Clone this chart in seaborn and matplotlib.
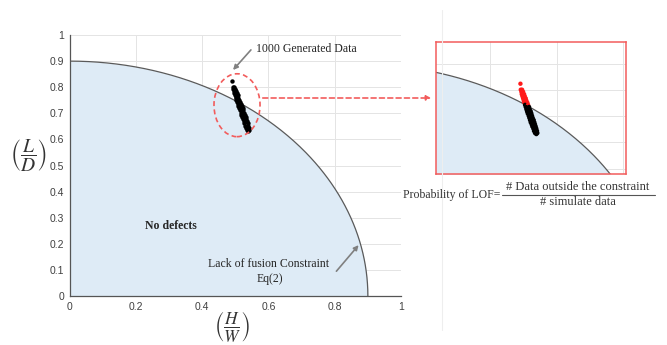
import matplotlib
matplotlib.use('Agg')
import matplotlib.pyplot as plt
import seaborn as sns
import numpy as np
import pandas as pd
from matplotlib.patches import Ellipse, FancyArrowPatch
from matplotlib.lines import Line2D

# lack of fusion constraint (Eq 2): (H/W)^2 + (L/D)^2 = radius^2
radius = 0.9

x_ticks = [0, 0.2, 0.4, 0.6, 0.8, 1]
x_tick_labels = ['0', '0.2', '0.4', '0.6', '0.8', '1']
y_ticks = [0, 0.1, 0.2, 0.3, 0.4, 0.5, 0.6, 0.7, 0.8, 0.9, 1]
y_tick_labels = ['0', '0.1', '0.2', '0.3', '0.4', '0.5', '0.6', '0.7', '0.8', '0.9', '1']

# generated data, read off the streak in the picture
hw = [0.491, 0.492, 0.496, 0.494, 0.499, 0.498, 0.495, 0.502, 0.497, 0.504,
      0.499, 0.507, 0.503, 0.501, 0.509, 0.503, 0.512, 0.5075, 0.505, 0.514,
      0.507, 0.517, 0.512, 0.509, 0.519, 0.511, 0.522, 0.5165, 0.513, 0.524,
      0.516, 0.526, 0.521, 0.518, 0.528, 0.520, 0.531, 0.525, 0.522, 0.533,
      0.525, 0.535, 0.530, 0.527, 0.537, 0.530, 0.539, 0.532, 0.541, 0.535,
      0.542, 0.539]
ld = [0.825, 0.802, 0.802, 0.794, 0.794, 0.789, 0.785, 0.785, 0.777, 0.777,
      0.769, 0.769, 0.764, 0.760, 0.760, 0.752, 0.752, 0.748, 0.744, 0.744,
      0.736, 0.736, 0.731, 0.727, 0.727, 0.719, 0.719, 0.715, 0.711, 0.711,
      0.702, 0.702, 0.698, 0.694, 0.694, 0.686, 0.686, 0.681, 0.677, 0.677,
      0.669, 0.669, 0.665, 0.661, 0.661, 0.653, 0.653, 0.644, 0.644, 0.636,
      0.636, 0.632]

df = pd.DataFrame({'hw': hw, 'ld': ld})
df['outside'] = (df['hw'] ** 2 + df['ld'] ** 2) > radius ** 2

sns.set_style('white')
plt.rcParams['font.family'] = ['Liberation Serif', 'DejaVu Serif']
plt.rcParams['mathtext.fontset'] = 'stix'

fill_col = '#deebf6'
grid_col = '#e4e4e4'
red = '#f25c5c'

fig = plt.figure(figsize=(6.67, 3.45), dpi=100)

# faint separator of the original panel
fig.add_artist(Line2D([442 / 667, 442 / 667], [1 - 330 / 345, 1 - 10 / 345],
                      color='#eeeeee', lw=0.8))

ax = fig.add_axes([0.1045, 0.142, 0.4967, 0.7565])
axin = fig.add_axes([0.6537, 0.4957, 0.2849, 0.3826])

th = np.linspace(0, np.pi / 2, 300)
cx = radius * np.cos(th)[::-1]
cy = radius * np.sin(th)[::-1]

for a in (ax, axin):
    a.fill_between(cx, 0, cy, color=fill_col, zorder=1, lw=0)
    a.plot(cx, cy, color='#5a5a5a', lw=0.9, zorder=2)
    a.set_xticks(x_ticks)
    a.set_yticks(y_ticks)
    a.grid(True, color=grid_col, lw=0.7, zorder=0)
    a.set_axisbelow(True)

# main panel
sns.scatterplot(data=df, x='hw', y='ld', color='black', s=10, linewidth=0,
                ax=ax, zorder=4)
ax.set_xlim(0, 1)
ax.set_ylim(0, 1)
ax.set_xticklabels(x_tick_labels, family='Liberation Sans', fontsize=7.5, color='#404040')
ax.set_yticklabels(y_tick_labels, family='Liberation Sans', fontsize=7.5, color='#404040')
ax.tick_params(direction='in', length=3, color='#555555', pad=4)
ax.set_xlabel('')
ax.set_ylabel('')
for s in ['top', 'right']:
    ax.spines[s].set_visible(False)
for s in ['left', 'bottom']:
    ax.spines[s].set_color('#555555')
    ax.spines[s].set_linewidth(0.9)

ax.add_patch(Ellipse((0.505, 0.731), 0.139, 0.241, fill=False, ec=red,
                     ls=(0, (3, 2)), lw=1.2, zorder=5))

ax.text(0.562, 0.946, '1000 Generated Data', fontsize=8.5, va='center', ha='left')
ax.annotate('', xy=(0.493, 0.866), xytext=(0.547, 0.943),
            arrowprops=dict(arrowstyle='-|>', color='#808080', lw=1.2,
                            mutation_scale=7, shrinkA=0, shrinkB=0))
ax.text(0.305, 0.268, 'No defects', fontsize=8.5, fontweight='bold',
        ha='center', va='center')
ax.text(0.6, 0.123, 'Lack of fusion Constraint', fontsize=8.5, ha='center', va='center')
ax.text(0.603, 0.065, 'Eq(2)', fontsize=8.5, ha='center', va='center')
ax.annotate('', xy=(0.872, 0.195), xytext=(0.805, 0.095),
            arrowprops=dict(arrowstyle='-|>', color='#808080', lw=1.2,
                            mutation_scale=7, shrinkA=0, shrinkB=0))

fig.text(29 / 667, 1 - 156 / 345, r'$\left(\dfrac{L}{D}\right)$', fontsize=14,
         ha='center', va='center', color='#333333')
fig.text(232 / 667, 1 - 327 / 345, r'$\left(\dfrac{H}{W}\right)$', fontsize=12.5,
         ha='center', va='center', color='#333333')

# zoomed panel
sns.scatterplot(data=df, x='hw', y='ld', hue='outside',
                palette={True: '#ff1a1a', False: 'black'}, s=10, linewidth=0,
                legend=False, ax=axin, zorder=4)
axin.set_xlim(0.236, 0.81)
axin.set_ylim(0.479, 0.985)
axin.set_xticklabels([])
axin.set_yticklabels([])
axin.tick_params(length=0)
axin.set_xlabel('')
axin.set_ylabel('')
for s in axin.spines.values():
    s.set_color(red)
    s.set_linewidth(1.1)

fig.add_artist(FancyArrowPatch((260 / 667, 1 - 98 / 345), (434 / 667, 1 - 98 / 345),
                               transform=fig.transFigure, arrowstyle='-|>',
                               mutation_scale=7, color=red, lw=1.2,
                               ls=(0, (3, 2))))

# probability formula
fig.text(403 / 667, 1 - 195 / 345, 'Probability of LOF=', fontsize=8.5,
         ha='left', va='center', color='#333333')
fig.text(578 / 667, 1 - 187 / 345, '# Data outside the constraint', fontsize=9,
         ha='center', va='center', color='#333333')
fig.text(578 / 667, 1 - 202 / 345, '# simulate data', fontsize=9,
         ha='center', va='center', color='#333333')
fig.add_artist(Line2D([502 / 667, 655 / 667], [1 - 194.5 / 345, 1 - 194.5 / 345],
                      color='#555555', lw=0.8))

fig.savefig('out.png', dpi=100)
